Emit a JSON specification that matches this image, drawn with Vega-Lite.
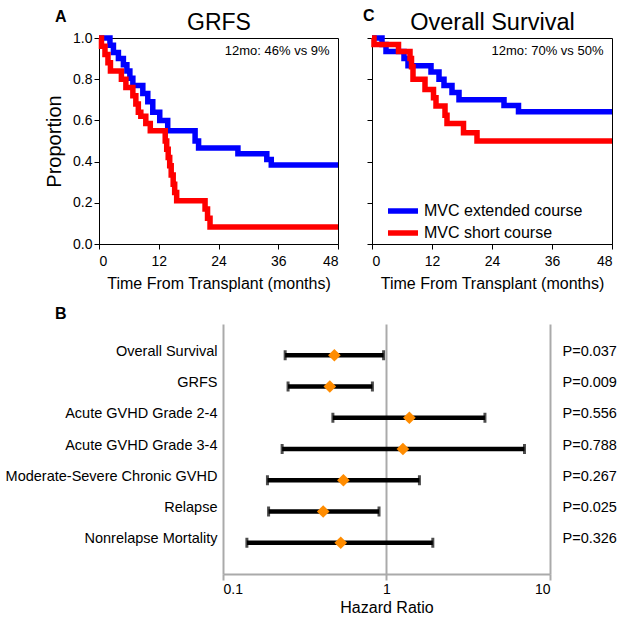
{
  "$schema": "https://vega.github.io/schema/vega-lite/v6.json",
  "padding": {"left": 5, "top": 7, "right": 5, "bottom": 5},
  "config": {
    "font": "Liberation Sans",
    "view": {"stroke": null},
    "axis": {"labelColor": "#000", "titleColor": "#000", "titleFontWeight": "normal", "labelFont": "Liberation Sans", "titleFont": "Liberation Sans"},
    "title": {"color": "#000", "font": "Liberation Sans"},
    "legend": {"labelFont": "Liberation Sans", "labelColor": "#000"}
  },
  "datasets": {
    "km": [
      {"panel": "GRFS", "group": "MVC extended course", "month": 0, "surv": 1.0},
      {"panel": "GRFS", "group": "MVC extended course", "month": 2.2, "surv": 0.965},
      {"panel": "GRFS", "group": "MVC extended course", "month": 2.9, "surv": 0.93},
      {"panel": "GRFS", "group": "MVC extended course", "month": 3.9, "surv": 0.9},
      {"panel": "GRFS", "group": "MVC extended course", "month": 4.9, "surv": 0.87},
      {"panel": "GRFS", "group": "MVC extended course", "month": 5.6, "surv": 0.84},
      {"panel": "GRFS", "group": "MVC extended course", "month": 6.2, "surv": 0.805},
      {"panel": "GRFS", "group": "MVC extended course", "month": 6.8, "surv": 0.77},
      {"panel": "GRFS", "group": "MVC extended course", "month": 8.8, "surv": 0.73},
      {"panel": "GRFS", "group": "MVC extended course", "month": 9.8, "surv": 0.69},
      {"panel": "GRFS", "group": "MVC extended course", "month": 10.8, "surv": 0.64},
      {"panel": "GRFS", "group": "MVC extended course", "month": 12.2, "surv": 0.6},
      {"panel": "GRFS", "group": "MVC extended course", "month": 13.8, "surv": 0.55},
      {"panel": "GRFS", "group": "MVC extended course", "month": 19.3, "surv": 0.5},
      {"panel": "GRFS", "group": "MVC extended course", "month": 20.0, "surv": 0.466},
      {"panel": "GRFS", "group": "MVC extended course", "month": 27.9, "surv": 0.438},
      {"panel": "GRFS", "group": "MVC extended course", "month": 33.7, "surv": 0.41},
      {"panel": "GRFS", "group": "MVC extended course", "month": 34.6, "surv": 0.383},
      {"panel": "GRFS", "group": "MVC extended course", "month": 48, "surv": 0.383},
      {"panel": "GRFS", "group": "MVC short course", "month": 0, "surv": 1.0},
      {"panel": "GRFS", "group": "MVC short course", "month": 0.5, "surv": 0.96},
      {"panel": "GRFS", "group": "MVC short course", "month": 1.2, "surv": 0.92},
      {"panel": "GRFS", "group": "MVC short course", "month": 1.8, "surv": 0.88},
      {"panel": "GRFS", "group": "MVC short course", "month": 2.3, "surv": 0.84},
      {"panel": "GRFS", "group": "MVC short course", "month": 4.5, "surv": 0.8},
      {"panel": "GRFS", "group": "MVC short course", "month": 5.4, "surv": 0.76},
      {"panel": "GRFS", "group": "MVC short course", "month": 6.8, "surv": 0.72},
      {"panel": "GRFS", "group": "MVC short course", "month": 7.4, "surv": 0.68},
      {"panel": "GRFS", "group": "MVC short course", "month": 7.9, "surv": 0.64},
      {"panel": "GRFS", "group": "MVC short course", "month": 8.4, "surv": 0.62},
      {"panel": "GRFS", "group": "MVC short course", "month": 9.4, "surv": 0.585},
      {"panel": "GRFS", "group": "MVC short course", "month": 10.3, "surv": 0.55},
      {"panel": "GRFS", "group": "MVC short course", "month": 13.3, "surv": 0.5},
      {"panel": "GRFS", "group": "MVC short course", "month": 13.6, "surv": 0.46},
      {"panel": "GRFS", "group": "MVC short course", "month": 13.9, "surv": 0.42},
      {"panel": "GRFS", "group": "MVC short course", "month": 14.2, "surv": 0.38},
      {"panel": "GRFS", "group": "MVC short course", "month": 14.5, "surv": 0.335},
      {"panel": "GRFS", "group": "MVC short course", "month": 14.9, "surv": 0.29},
      {"panel": "GRFS", "group": "MVC short course", "month": 15.2, "surv": 0.25},
      {"panel": "GRFS", "group": "MVC short course", "month": 15.6, "surv": 0.21},
      {"panel": "GRFS", "group": "MVC short course", "month": 21.3, "surv": 0.17},
      {"panel": "GRFS", "group": "MVC short course", "month": 21.8, "surv": 0.125},
      {"panel": "GRFS", "group": "MVC short course", "month": 22.3, "surv": 0.082},
      {"panel": "GRFS", "group": "MVC short course", "month": 48, "surv": 0.082},
      {"panel": "OS", "group": "MVC extended course", "month": 0, "surv": 1.0},
      {"panel": "OS", "group": "MVC extended course", "month": 2.0, "surv": 0.968},
      {"panel": "OS", "group": "MVC extended course", "month": 2.8, "surv": 0.935},
      {"panel": "OS", "group": "MVC extended course", "month": 6.4, "surv": 0.9},
      {"panel": "OS", "group": "MVC extended course", "month": 7.2, "surv": 0.865},
      {"panel": "OS", "group": "MVC extended course", "month": 11.8, "surv": 0.835},
      {"panel": "OS", "group": "MVC extended course", "month": 13.4, "surv": 0.8},
      {"panel": "OS", "group": "MVC extended course", "month": 14.4, "surv": 0.77},
      {"panel": "OS", "group": "MVC extended course", "month": 16.0, "surv": 0.735},
      {"panel": "OS", "group": "MVC extended course", "month": 17.4, "surv": 0.7},
      {"panel": "OS", "group": "MVC extended course", "month": 26.4, "surv": 0.672},
      {"panel": "OS", "group": "MVC extended course", "month": 29.3, "surv": 0.642},
      {"panel": "OS", "group": "MVC extended course", "month": 48, "surv": 0.642},
      {"panel": "OS", "group": "MVC short course", "month": 0, "surv": 1.0},
      {"panel": "OS", "group": "MVC short course", "month": 0.4, "surv": 0.968},
      {"panel": "OS", "group": "MVC short course", "month": 5.3, "surv": 0.935},
      {"panel": "OS", "group": "MVC short course", "month": 7.6, "surv": 0.9},
      {"panel": "OS", "group": "MVC short course", "month": 7.9, "surv": 0.86},
      {"panel": "OS", "group": "MVC short course", "month": 8.2, "surv": 0.8},
      {"panel": "OS", "group": "MVC short course", "month": 10.6, "surv": 0.75},
      {"panel": "OS", "group": "MVC short course", "month": 12.3, "surv": 0.71},
      {"panel": "OS", "group": "MVC short course", "month": 12.8, "surv": 0.67},
      {"panel": "OS", "group": "MVC short course", "month": 14.6, "surv": 0.625},
      {"panel": "OS", "group": "MVC short course", "month": 15.0, "surv": 0.585},
      {"panel": "OS", "group": "MVC short course", "month": 18.3, "surv": 0.54},
      {"panel": "OS", "group": "MVC short course", "month": 21.0, "surv": 0.5},
      {"panel": "OS", "group": "MVC short course", "month": 48, "surv": 0.5}
    ],
    "forest": [
      {"outcome": "Overall Survival", "lo": 0.24, "hr": 0.48, "hi": 0.96, "p": "P=0.037"},
      {"outcome": "GRFS", "lo": 0.25, "hr": 0.45, "hi": 0.82, "p": "P=0.009"},
      {"outcome": "Acute GVHD Grade 2-4", "lo": 0.47, "hr": 1.38, "hi": 4.0, "p": "P=0.556"},
      {"outcome": "Acute GVHD Grade 3-4", "lo": 0.23, "hr": 1.26, "hi": 6.98, "p": "P=0.788"},
      {"outcome": "Moderate-Severe Chronic GVHD", "lo": 0.187, "hr": 0.545, "hi": 1.59, "p": "P=0.267"},
      {"outcome": "Relapse", "lo": 0.19, "hr": 0.41, "hi": 0.9, "p": "P=0.025"},
      {"outcome": "Nonrelapse Mortality", "lo": 0.14, "hr": 0.525, "hi": 1.92, "p": "P=0.326"}
    ]
  },
  "bounds": "full",
  "spacing": 14,
  "resolve": {"scale": {"color": "independent"}, "legend": {"color": "independent"}},
  "vconcat": [
    {
      "bounds": "flush",
      "spacing": 34,
      "resolve": {"scale": {"color": "independent"}, "legend": {"color": "independent"}},
      "hconcat": [
        {
          "width": 239,
          "height": 206,
          "view": {"stroke": "#000", "strokeWidth": 1},
          "title": {"text": "A", "anchor": "start", "frame": "group", "dx": -44, "dy": 14, "fontSize": 16, "fontWeight": "bold", "offset": 0},
          "resolve": {"axis": {"x": "independent"}},
          "layer": [
            {
              "data": {"name": "km"},
              "transform": [{"filter": "datum.panel === 'GRFS'"}],
              "mark": {"type": "line", "interpolate": "step-after", "strokeWidth": 5.5},
              "encoding": {
                "x": {"field": "month", "type": "quantitative", "scale": {"domain": [0, 48], "nice": false},
                  "axis": {"values": [0, 12, 24, 36, 48], "title": "Time From Transplant (months)", "labelFontSize": 14, "titleFontSize": 16, "tickSize": 5, "tickColor": "#000", "domainColor": "#000", "labelPadding": 5, "titlePadding": 7, "grid": false}},
                "y": {"field": "surv", "type": "quantitative", "scale": {"domain": [0, 1], "nice": false},
                  "axis": {"values": [0, 0.2, 0.4, 0.6, 0.8, 1], "format": ".1f", "title": "Proportion", "labelFontSize": 14, "titleFontSize": 20, "tickSize": 5, "tickColor": "#000", "domainColor": "#000", "labelPadding": 2, "titlePadding": 8, "grid": false}},
                "color": {"field": "group", "type": "nominal", "scale": {"domain": ["MVC extended course", "MVC short course"], "range": ["#0000ff", "#ff0000"]}, "legend": null}
              }
            },
            {
              "data": {"values": [{"month": 46.3, "surv": 0.935, "label": "12mo: 46% vs 9%"}]},
              "mark": {"type": "text", "align": "right", "baseline": "middle", "fontSize": 13, "color": "#000"},
              "encoding": {
                "x": {"field": "month", "type": "quantitative",
                  "axis": {"orient": "top", "title": "GRFS", "titleFontSize": 23, "titlePadding": 4, "labels": false, "ticks": false, "domain": false, "grid": false}},
                "y": {"field": "surv", "type": "quantitative", "title": "Proportion"},
                "text": {"field": "label"}
              }
            }
          ]
        },
        {
          "width": 240,
          "height": 206,
          "view": {"stroke": "#000", "strokeWidth": 1},
          "title": {"text": "C", "anchor": "start", "frame": "group", "dx": -9, "dy": 14, "fontSize": 16, "fontWeight": "bold", "offset": 0},
          "resolve": {"axis": {"x": "independent"}},
          "layer": [
            {
              "data": {"name": "km"},
              "transform": [{"filter": "datum.panel === 'OS'"}],
              "mark": {"type": "line", "interpolate": "step-after", "strokeWidth": 5.5},
              "encoding": {
                "x": {"field": "month", "type": "quantitative", "scale": {"domain": [0, 48], "nice": false},
                  "axis": {"values": [0, 12, 24, 36, 48], "title": "Time From Transplant (months)", "labelFontSize": 14, "titleFontSize": 16, "tickSize": 5, "tickColor": "#000", "domainColor": "#000", "labelPadding": 5, "titlePadding": 7, "grid": false}},
                "y": {"field": "surv", "type": "quantitative", "scale": {"domain": [0, 1], "nice": false},
                  "axis": {"values": [0, 0.2, 0.4, 0.6, 0.8, 1], "labels": false, "title": null, "tickSize": 5, "tickColor": "#000", "domainColor": "#000", "grid": false}},
                "color": {"field": "group", "type": "nominal", "scale": {"domain": ["MVC extended course", "MVC short course"], "range": ["#0000ff", "#ff0000"]},
                  "legend": {"orient": "none", "legendX": 23, "legendY": 165, "title": null, "padding": 0, "symbolType": "M-3,0H3", "symbolStrokeWidth": 5.5, "symbolSize": 100, "labelFontSize": 16, "labelOffset": 13, "rowPadding": 0}}
              }
            },
            {
              "data": {"values": [{"month": 46.3, "surv": 0.935, "label": "12mo: 70% vs 50%"}]},
              "mark": {"type": "text", "align": "right", "baseline": "middle", "fontSize": 13, "color": "#000"},
              "encoding": {
                "x": {"field": "month", "type": "quantitative",
                  "axis": {"orient": "top", "title": "Overall Survival", "titleFontSize": 23.5, "titlePadding": 4, "labels": false, "ticks": false, "domain": false, "grid": false}},
                "y": {"field": "surv", "type": "quantitative", "title": null},
                "text": {"field": "label"}
              }
            }
          ]
        }
      ]
    },
    {
      "bounds": "flush",
      "spacing": 0,
      "hconcat": [
        {
          "width": 124,
          "height": 250,
          "data": {"values": [{"v": 0}]},
          "mark": {"type": "point", "opacity": 0},
          "encoding": {}
        },
        {
          "width": 327,
          "height": 250,
          "title": {"text": "B", "anchor": "start", "frame": "group", "dx": -168, "fontSize": 16, "fontWeight": "bold", "offset": 2},
          "data": {"name": "forest"},
          "resolve": {"scale": {"y": "independent"}},
          "layer": [
            {
              "layer": [
                {
                  "mark": {"type": "rule", "strokeWidth": 4.5, "color": "#000"},
                  "encoding": {
                    "x": {"field": "lo", "type": "quantitative", "title": "Hazard Ratio", "scale": {"type": "log", "domain": [0.1, 10], "nice": false},
                      "axis": {"values": [0.1, 1, 10], "format": "~g", "grid": true, "gridColor": "#aaaaaa", "gridWidth": 2, "domainColor": "#aaaaaa", "domainWidth": 2, "tickColor": "#aaaaaa", "tickWidth": 2, "tickSize": 6, "labelFontSize": 14, "titleFontSize": 16, "labelPadding": 2, "titlePadding": 3}},
                    "x2": {"field": "hi"},
                    "y": {"field": "outcome", "type": "nominal", "sort": null, "title": null, "scale": {"type": "point", "padding": 1},
                      "axis": {"domain": false, "ticks": false, "grid": false, "labelFontSize": 14.5, "labelPadding": 6, "labelOffset": -4, "labelLimit": 400}}
                  }
                },
                {
                  "mark": {"type": "tick", "orient": "vertical", "thickness": 3, "size": 10, "color": "#000"},
                  "encoding": {
                    "x": {"field": "lo", "type": "quantitative", "title": "Hazard Ratio"},
                    "y": {"field": "outcome", "type": "nominal", "sort": null, "title": null}
                  }
                },
                {
                  "mark": {"type": "tick", "orient": "vertical", "thickness": 3, "size": 10, "color": "#000"},
                  "encoding": {
                    "x": {"field": "hi", "type": "quantitative", "title": "Hazard Ratio"},
                    "y": {"field": "outcome", "type": "nominal", "sort": null, "title": null}
                  }
                }
              ]
            },
            {
              "mark": {"type": "point", "shape": "diamond", "filled": true, "color": "#ff8c00", "size": 160, "opacity": 1},
              "encoding": {
                "x": {"field": "hr", "type": "quantitative", "title": "Hazard Ratio"},
                "y": {"field": "p", "type": "nominal", "sort": null, "title": null, "scale": {"type": "point", "padding": 1},
                  "axis": {"orient": "right", "domain": false, "ticks": false, "grid": false, "labelFontSize": 14.5, "labelPadding": 12, "labelOffset": -4, "labelAlign": "left"}}
              }
            }
          ]
        }
      ]
    }
  ]
}
